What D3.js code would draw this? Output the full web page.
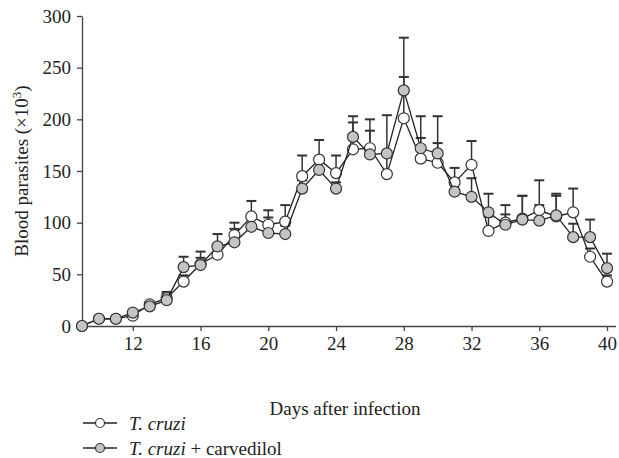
<!DOCTYPE html>
<html lang="en">
<head>
    <meta charset="UTF-8">
    <title>Blood parasites</title>
    <script src="https://d3js.org/d3.v7.min.js"></script>
    <style>
        body { margin: 0; background: #fff; }
        svg text { font-family: 'Liberation Serif', 'DejaVu Serif', serif; fill: #222; }
    </style>
</head>
<body>
<div id="chart"></div>
<script>
    // days after infection
    const days = d3.range(9, 41);
    const xTicks = [12, 16, 20, 24, 28, 32, 36, 40];
    const yTicks = [0, 50, 100, 150, 200, 250, 300];

    // T. cruzi (open circles)
    const cruzi = [0, 7, 7, 10, 21, 27, 43, 60, 69, 88, 106, 98, 101, 145, 161, 148,
        171, 172, 147, 201, 162, 158, 139, 156, 92, 100, 104, 112, 106, 110, 67, 43];
    const cruziErr = [0, 1, 1, 2, 2, 6, 6, 6, 6, 12, 15, 14, 16, 20, 19, 17,
        26, 28, 20, 40, 20, 19, 14, 23, 14, 8, 22, 29, 20, 23, 8, 6];

    // T. cruzi + carvedilol (grey circles)
    const carv = [0, 7, 7, 13, 19, 25, 57, 59, 77, 81, 96, 90, 89, 133, 151, 133,
        183, 166, 167, 228, 172, 167, 130, 125, 110, 98, 103, 102, 107, 86, 86, 56];
    const carvErr = [0, 1, 1, 2, 2, 6, 10, 13, 12, 13, 8, 15, 8, 8, 8, 6,
        20, 23, 37, 51, 31, 36, 8, 18, 18, 19, 23, 15, 21, 13, 17, 14];

    const width = 619, height = 458;
    const fontSize = '19px';

    const svg = d3.select('#chart').append('svg')
        .attr('width', width)
        .attr('height', height);

    const x = d3.scaleLinear().domain([9, 40.5]).range([82, 615.5]);
    const y = d3.scaleLinear().domain([0, 300]).range([326, 16]);

    // axes
    const xAxis = svg.append('g')
        .attr('transform', `translate(0,${y(0)})`)
        .call(d3.axisBottom(x).tickValues(xTicks).tickSize(5).tickSizeOuter(0).tickPadding(6));
    const yAxis = svg.append('g')
        .attr('transform', `translate(${x(9)},0)`)
        .call(d3.axisLeft(y).tickValues(yTicks).tickSize(5).tickSizeOuter(0).tickPadding(6));

    [xAxis, yAxis].forEach(a => {
        a.select('.domain').attr('stroke', '#444').attr('stroke-width', 1.3);
        a.selectAll('.tick line').attr('stroke', '#444').attr('stroke-width', 1.3);
        a.selectAll('.tick text')
            .style('font-family', "'Liberation Serif', serif")
            .style('font-size', fontSize)
            .attr('fill', '#222');
    });

    // axis titles
    svg.append('text')
        .attr('x', 345)
        .attr('y', 415)
        .attr('text-anchor', 'middle')
        .style('font-size', fontSize)
        .text('Days after infection');

    const yl = svg.append('text')
        .attr('transform', 'translate(28,171) rotate(-90)')
        .attr('text-anchor', 'middle')
        .style('font-size', fontSize);
    yl.append('tspan').text('Blood parasites (×10');
    yl.append('tspan').attr('dy', -7).style('font-size', '13px').text('3');
    yl.append('tspan').attr('dy', 7).text(')');

    const series = [
        { vals: cruzi, err: cruziErr, fill: '#ffffff' },
        { vals: carv, err: carvErr, fill: '#c4c4c4' }
    ];

    // error bars (upper only)
    series.forEach(s => {
        const g = svg.append('g').attr('stroke', '#333').attr('stroke-width', 1.5);
        days.forEach((d, i) => {
            if (!s.err[i]) return;
            g.append('line')
                .attr('x1', x(d)).attr('x2', x(d))
                .attr('y1', y(s.vals[i])).attr('y2', y(s.vals[i] + s.err[i]));
            g.append('line')
                .attr('x1', x(d) - 5).attr('x2', x(d) + 5)
                .attr('y1', y(s.vals[i] + s.err[i])).attr('y2', y(s.vals[i] + s.err[i]))
                .attr('stroke-width', 2);
        });
    });

    const line = d3.line().x((v, i) => x(days[i])).y(v => y(v));

    series.forEach(s => {
        svg.append('path')
            .datum(s.vals)
            .attr('d', line)
            .attr('fill', 'none')
            .attr('stroke', '#222')
            .attr('stroke-width', 1.3);
        svg.append('g').selectAll('circle')
            .data(s.vals)
            .enter()
            .append('circle')
            .attr('cx', (v, i) => x(days[i]))
            .attr('cy', v => y(v))
            .attr('r', 5.5)
            .attr('fill', s.fill)
            .attr('stroke', '#333')
            .attr('stroke-width', 1.2);
    });

    // legend
    const legendItems = [
        { fill: '#ffffff', parts: [['T. cruzi', true]] },
        { fill: '#c4c4c4', parts: [['T. cruzi', true], [' + carvedilol', false]] }
    ];
    const legend = svg.selectAll('.legend')
        .data(legendItems)
        .enter()
        .append('g')
        .attr('class', 'legend')
        .attr('transform', (d, i) => `translate(83,${423 + i * 25})`);

    legend.append('line')
        .attr('x1', 0).attr('x2', 34)
        .attr('stroke', '#222').attr('stroke-width', 1.3);
    legend.append('circle')
        .attr('cx', 17).attr('r', 4.5)
        .attr('fill', d => d.fill)
        .attr('stroke', '#333').attr('stroke-width', 1.2);
    const lt = legend.append('text')
        .attr('x', 46)
        .attr('dy', '0.35em')
        .style('font-size', fontSize);
    lt.selectAll('tspan')
        .data(d => d.parts)
        .enter()
        .append('tspan')
        .style('font-style', p => p[1] ? 'italic' : 'normal')
        .text(p => p[0]);
</script>
</body>
</html>
